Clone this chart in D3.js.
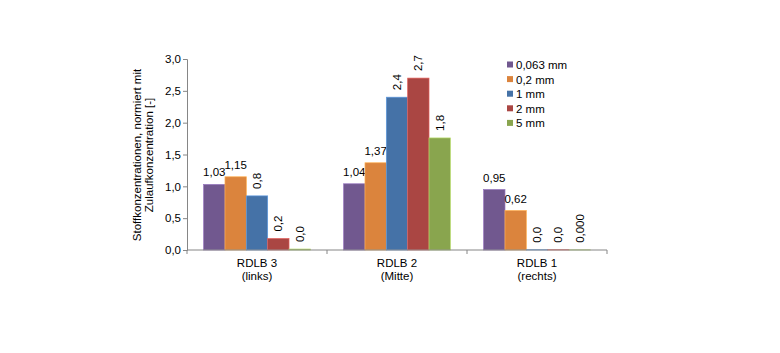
<!DOCTYPE html>
<html><head><meta charset="utf-8">
<script src="https://cdn.jsdelivr.net/npm/d3@7"></script>
<style>body{margin:0;background:#fff}svg text{font-family:"Liberation Sans",Arial,sans-serif;fill:#000}</style>
</head><body><svg id="c" width="780" height="353"></svg>
<script>
const categories = ["RDLB 3|(links)", "RDLB 2|(Mitte)", "RDLB 1|(rechts)"];
const seriesNames = ["0,063 mm", "0,2 mm", "1 mm", "2 mm", "5 mm"];
const s0063 = [1.03, 1.04, 0.95];
const s02 = [1.15, 1.37, 0.62];
const s1 = [0.85, 2.40, 0.004];
const s2 = [0.18, 2.70, 0.004];
const s5 = [0.015, 1.76, 0.002];
const labels0063 = ["1,03", "1,04", "0,95"];
const labels02 = ["1,15", "1,37", "0,62"];
const labels1 = ["0,8", "2,4", "0,0"];
const labels2 = ["0,2", "2,7", "0,0"];
const labels5 = ["0,0", "1,8", "0,000"];
const rotated = [[false,false,false],[false,false,false],[true,true,true],[true,true,true],[true,true,true]];
const colors = ["#71588F", "#DB843D", "#4572A7", "#AA4643", "#89A54E"];
const yTicks = [0, 0.5, 1, 1.5, 2, 2.5, 3];
const yTickLabels = ["0,0", "0,5", "1,0", "1,5", "2,0", "2,5", "3,0"];
const yTitle = ["Stoffkonzentrationen, normiert mit", "Zulaufkonzentration [-]"];

const series = [s0063, s02, s1, s2, s5];
const labels = [labels0063, labels02, labels1, labels2, labels5];

const svg = d3.select("#c");
const x0 = d3.scaleBand().domain(categories).range([187, 607]).paddingInner(0).paddingOuter(0);
const x1 = d3.scaleBand().domain(d3.range(5)).range([0, x0.bandwidth()]).paddingInner(0).paddingOuter(0.78);
const y = d3.scaleLinear().domain([0, 3]).range([250, 59]);

// bars
const g = svg.append("g");
categories.forEach((c, ci) => {
  series.forEach((s, si) => {
    const v = s[ci];
    const bx = x0(c) + x1(si);
    g.append("rect").attr("x", bx).attr("y", y(v)).attr("width", x1.bandwidth())
      .attr("height", y(0) - y(v)).attr("fill", colors[si])
      .attr("stroke", d3.color(colors[si]).brighter(0.8)).attr("stroke-width", 0.7);
    const cx = bx + x1.bandwidth() / 2;
    if (rotated[si][ci]) {
      g.append("text").attr("transform", `translate(${cx + 4},${y(v) - 7}) rotate(-90)`)
        .attr("text-anchor", "start").attr("font-size", 11.5).text(labels[si][ci]);
    } else {
      g.append("text").attr("x", cx).attr("y", y(v) - 8).attr("text-anchor", "middle")
        .attr("font-size", 11.5).text(labels[si][ci]);
    }
  });
});

// y axis
const yAxis = d3.axisLeft(y).tickValues(yTicks).tickSize(4).tickFormat((d, i) => yTickLabels[i]);
const ya = svg.append("g").attr("transform", "translate(187,0)").call(yAxis);
ya.select(".domain").attr("stroke", "#868686");
ya.selectAll(".tick line").attr("stroke", "#868686");
ya.selectAll(".tick text").attr("font-size", 11.5).attr("font-family", "Liberation Sans, Arial").attr("fill", "#000").attr("x", -6);

// x axis
svg.append("line").attr("x1", 187).attr("x2", 607).attr("y1", 250).attr("y2", 250).attr("stroke", "#868686");
[187, ...categories.map(c => x0(c) + x0.bandwidth())].forEach(xx => {
  svg.append("line").attr("x1", xx).attr("x2", xx).attr("y1", 250).attr("y2", 254).attr("stroke", "#868686");
});
categories.forEach(c => {
  const parts = c.split("|");
  const t = svg.append("text").attr("text-anchor", "middle").attr("font-size", 11.5);
  parts.forEach((p, i) => t.append("tspan").attr("x", x0(c) + x0.bandwidth() / 2).attr("y", 267 + i * 13).text(p));
});

// y title
const yt = svg.append("text").attr("transform", "translate(141,155) rotate(-90)").attr("text-anchor", "middle").attr("font-size", 11.5);
yTitle.forEach((t, i) => yt.append("tspan").attr("x", 0).attr("y", i * 12).text(t));

// legend
const lg = svg.append("g").attr("transform", "translate(507,60)");
seriesNames.forEach((n, i) => {
  lg.append("rect").attr("x", 0).attr("y", i * 14.6 + 1.5).attr("width", 6).attr("height", 6).attr("fill", colors[i]);
  lg.append("text").attr("x", 9).attr("y", i * 14.6 + 9).attr("font-size", 11.5).text(n);
});
</script></body></html>
